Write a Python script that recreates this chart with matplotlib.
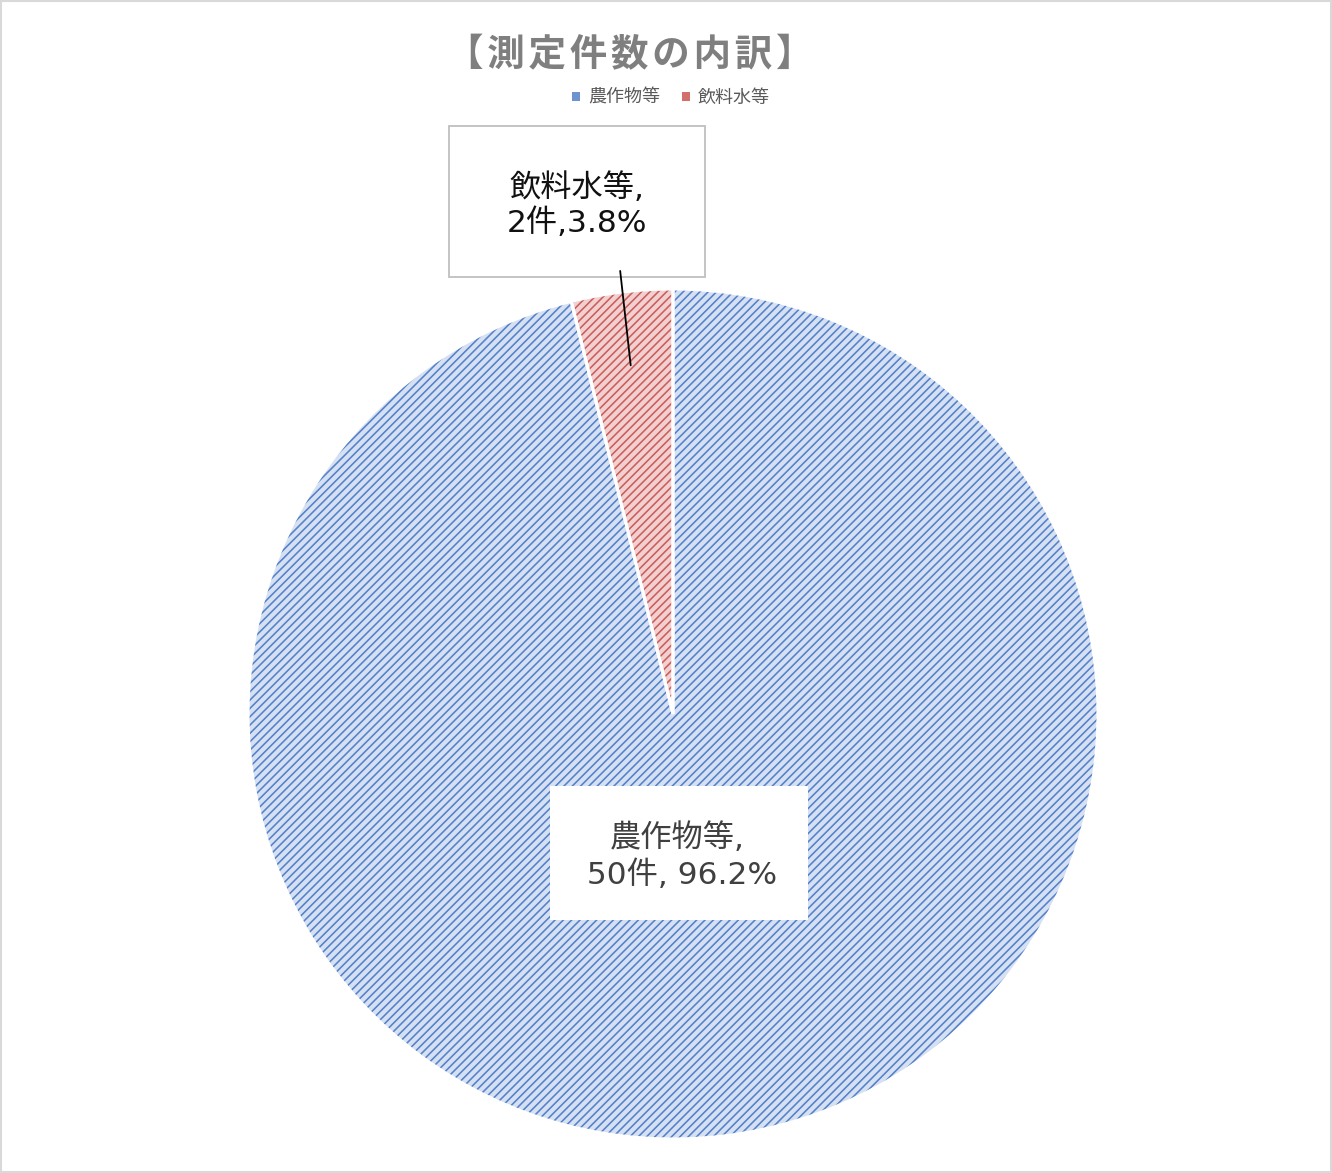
import numpy as np
import matplotlib
matplotlib.use("Agg")
import matplotlib.pyplot as plt
from matplotlib.patches import Rectangle, Patch

plt.rcParams["font.family"] = ["Noto Sans CJK JP", "DejaVu Sans"]
plt.rcParams["hatch.linewidth"] = 1.15

title = "【測定件数の内訳】"
categories = ["農作物等", "飲料水等"]
counts = [50, 2]
percents = [96.2, 3.8]
label_texts = ["農作物等,\n 50件, 96.2%", "飲料水等,\n2件,3.8%"]

fill_colors = ["#d5e1f3", "#f3d0d0"]
hatch_colors = ["#5581ca", "#c95e5b"]
legend_colors = ["#6d93d0", "#d26e6c"]

label_font = ["DejaVu Sans", "Noto Sans CJK JP"]

W, H = 1332, 1173
fig = plt.figure(figsize=(W / 100, H / 100), dpi=100)

# pie centre ~(673, 714) px, radius ~425 px
cx, cy, r = 673, 714, 425
ax = fig.add_axes([(cx - r) / W, (H - cy - r) / H, 2 * r / W, 2 * r / H])

wedges, _ = ax.pie(counts, startangle=90, counterclock=False, radius=1,
                   wedgeprops=dict(linewidth=0))
for w, fc, hc in zip(wedges, fill_colors, hatch_colors):
    w.set_facecolor(fc)
    w.set_edgecolor(hc)
    w.set_hatch("////")
    w.set_linewidth(0)

# white separators between slices
ax.pie(counts, startangle=90, counterclock=False, radius=1,
       wedgeprops=dict(fill=False, edgecolor="white", linewidth=2.2))

ax.set_xlim(-1, 1)
ax.set_ylim(-1, 1)
ax.set_aspect("equal")
ax.axis("off")

# label for 飲料水等 (boxed, with leader line)
w = wedges[1]
mid = np.deg2rad((w.theta1 + w.theta2) / 2)
tip = (0.82 * np.cos(mid), 0.82 * np.sin(mid))
ax.add_patch(Rectangle((-0.527, 1.028), 0.602, 0.356, facecolor="white",
                       edgecolor="#bfbfbf", linewidth=1.3, clip_on=False, zorder=3))
ax.annotate("", xy=tip, xytext=(-0.125, 1.049),
            arrowprops=dict(arrowstyle="-", color="black", lw=1.3),
            annotation_clip=False, zorder=4)
ax.text(-0.226, 1.197, label_texts[1], ha="center", va="center",
        fontsize=22.5, color="#111111", linespacing=1.16, zorder=5,
        family=label_font)

# label for 農作物等
ax.add_patch(Rectangle((-0.289, -0.485), 0.607, 0.316, facecolor="white",
                       edgecolor="none", clip_on=False, zorder=3))
ax.text(0.01, -0.334, label_texts[0], ha="center", va="center",
        fontsize=22.5, color="#404040", linespacing=1.26, zorder=5,
        family=label_font)

fig.text(630 / W, 1 - 55 / H, "\u200a".join(title), ha="center", va="center",
         fontsize=27, fontweight="bold", color="#7f7f7f")

handles = [Patch(facecolor=lc, edgecolor="none")
           for lc in legend_colors]
fig.legend(handles, categories, loc="center", bbox_to_anchor=(671 / W, 1 - 98 / H),
           ncol=2, frameon=False, fontsize=13, handlelength=0.45, handleheight=0.45,
           handletextpad=0.45, columnspacing=1.2, labelcolor="#595959")

fig.patches.append(Rectangle((0.0008, 0.0008), 0.9984, 0.9984, transform=fig.transFigure,
                             fill=False, edgecolor="#d9d9d9", linewidth=1.5))

fig.savefig("out.png", dpi=100, facecolor="white")
